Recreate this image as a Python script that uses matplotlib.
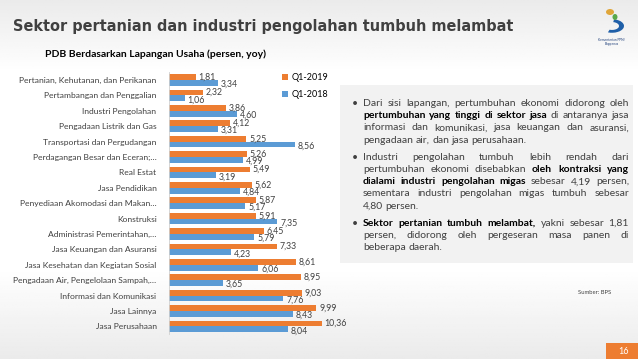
import matplotlib
matplotlib.use("Agg")
import matplotlib.pyplot as plt
import numpy as np
from matplotlib.patches import Rectangle, Wedge, Ellipse

# data
categories = ["Pertanian, Kehutanan, dan Perikanan", "Pertambangan dan Penggalian",
              "Industri Pengolahan", "Pengadaan Listrik dan Gas",
              "Transportasi dan Pergudangan", "Perdagangan Besar dan Eceran;…",
              "Real Estat", "Jasa Pendidikan", "Penyediaan Akomodasi dan Makan…",
              "Konstruksi", "Administrasi Pemerintahan,…", "Jasa Keuangan dan Asuransi",
              "Jasa Kesehatan dan Kegiatan Sosial", "Pengadaan Air, Pengelolaan Sampah,…",
              "Informasi dan Komunikasi", "Jasa Lainnya", "Jasa Perusahaan"]
q1_2019 = [1.81, 2.32, 3.86, 4.12, 5.25, 5.26, 5.49, 5.62, 5.87, 5.91, 6.45, 7.33, 8.61, 8.95, 9.03, 9.99, 10.36]
q1_2018 = [3.34, 1.06, 4.60, 3.31, 8.56, 4.99, 3.19, 4.84, 5.17, 7.35, 5.79, 4.23, 6.06, 3.65, 7.76, 8.43, 8.04]
series_names = ["Q1-2019", "Q1-2018"]

title = "Sektor pertanian dan industri pengolahan tumbuh melambat"
subtitle = "PDB Berdasarkan Lapangan Usaha (persen, yoy)"

# bullet paragraphs: lines of (text, bold) runs
bullets = [
    [[("Dari sisi lapangan, pertumbuhan ekonomi didorong oleh", False)],
     [("pertumbuhan yang tinggi di sektor jasa", True), ("di antaranya jasa", False)],
     [("informasi dan komunikasi, jasa keuangan dan asuransi,", False)],
     [("pengadaan air, dan jasa perusahaan.", False)]],
    [[("Industri pengolahan tumbuh lebih rendah dari", False)],
     [("pertumbuhan ekonomi disebabkan", False), ("oleh kontraksi yang", True)],
     [("dialami industri pengolahan migas", True), ("sebesar 4,19 persen,", False)],
     [("sementara industri pengolahan migas tumbuh sebesar", False)],
     [("4,80 persen.", False)]],
    [[("Sektor pertanian tumbuh melambat,", True), ("yakni sebesar 1,81", False)],
     [("persen, didorong oleh pergeseran masa panen di", False)],
     [("beberapa daerah.", False)]],
]

W, H = 638, 359
ORANGE = "#ED7D31"
BLUE = "#5B9BD5"
DARK = "#404040"
FONT = "Lato"

fig = plt.figure(figsize=(W / 100, H / 100), dpi=100)
renderer = fig.canvas.get_renderer()


def px(x, y):
    return x / W, 1 - y / H


def width_of(s, size, bold, family=FONT):
    t = fig.text(0, 0, s, fontsize=size, fontweight="bold" if bold else "normal", family=family)
    w = t.get_window_extent(renderer).width
    t.remove()
    return w


# slide background: light grey at top/bottom, white in the middle
bg = fig.add_axes([0, 0, 1, 1], zorder=-10)
yy = np.linspace(0, 1, 200)
shade = 0.92 + 0.08 * np.clip(np.minimum(yy / 0.2, (1 - yy) / 0.25), 0, 1)
bg.imshow(np.tile(shade[:, None], (1, 10)), cmap="gray", vmin=0, vmax=1,
          aspect="auto", extent=[0, 1, 1, 0])
bg.set_xlim(0, 1)
bg.set_ylim(1, 0)
bg.axis("off")

# title fitted to its width on the slide
tsize = 12.0 * (511 - 13) / width_of(title, 12.0, True, "DejaVu Sans")
fig.text(*px(13, 31), title, fontsize=tsize, fontweight="bold", color=DARK,
         family="DejaVu Sans", va="baseline", ha="left")
fig.text(*px(45, 54), subtitle, fontsize=7.5, fontweight="bold", color="black",
         family=FONT, va="center", ha="left")

# logo (simplified)
fig.patches.append(Wedge(px(612, 26), 12 / W, 250, 80, width=5 / W, transform=fig.transFigure,
                         facecolor="#1f5fa8", edgecolor="none"))
fig.patches.append(Ellipse(px(610, 12), 8 / W, 6 / H, transform=fig.transFigure,
                           facecolor="#e0a63a", edgecolor="none"))
fig.patches.append(Ellipse(px(615, 17), 5 / W, 6 / H, transform=fig.transFigure,
                           facecolor="#5aa84a", edgecolor="none"))
fig.text(*px(612, 42), "Kementerian PPN/\nBappenas", fontsize=2.3, color="#1f3f7a",
         family=FONT, ha="center", va="center", linespacing=1.0)

# bar chart
ax = fig.add_axes([169 / W, 1 - 334.1 / H, 169.6 / W, 261.8 / H])
ax.patch.set_alpha(0)
y = np.arange(len(categories))
h = 0.375
ax.barh(y - h / 2, q1_2019, height=h, color=ORANGE, label=series_names[0])
ax.barh(y + h / 2, q1_2018, height=h, color=BLUE, label=series_names[1])
for i in range(len(categories)):
    ax.annotate(f"{q1_2019[i]:.2f}".replace(".", ","), (q1_2019[i], i - h / 2),
                xytext=(2, 0), textcoords="offset points", va="center",
                fontsize=6.3, color=DARK, family=FONT)
    ax.annotate(f"{q1_2018[i]:.2f}".replace(".", ","), (q1_2018[i], i + h / 2 + 0.1),
                xytext=(2, 0), textcoords="offset points", va="center",
                fontsize=6.3, color=DARK, family=FONT)
ax.set_xlim(0, 11.5)
ax.set_ylim(len(categories) - 0.5, -0.5)
ax.set_yticks(y)
ax.set_yticklabels(categories, fontsize=6.1, color=DARK, family=FONT)
ax.tick_params(axis="y", length=0, pad=9)
ax.set_xticks([])
for s in ["top", "right", "bottom"]:
    ax.spines[s].set_visible(False)
ax.spines["left"].set_color("#d0d0d0")
ax.spines["left"].set_linewidth(0.6)
ax.legend(loc="upper left", bbox_to_anchor=px(274, 65),
          bbox_transform=fig.transFigure, frameon=False,
          handlelength=0.6, handleheight=0.6, handletextpad=0.4, labelspacing=0.9,
          prop={"family": FONT, "size": 6.5})

# text box with justified bullet text
fig.patches.append(Rectangle(px(340, 263), 293 / W, 178 / H, transform=fig.transFigure,
                             facecolor="#f2f2f2", edgecolor="none", zorder=1))

FS = 7.5
space_w = width_of("a a", FS, False) - width_of("aa", FS, False)
x0, x1 = 363, 629
line_h = 12.2
ypos = 103.5
for para in bullets:
    fig.text(*px(352, ypos), "•", fontsize=FS, color=DARK, family=FONT, va="center", zorder=3)
    for li, line in enumerate(para):
        words = [(w, bold) for text, bold in line for w in text.split(" ")]
        widths = [width_of(w, FS, b) for w, b in words]
        if li == len(para) - 1 or len(words) < 2:
            gap = space_w
        else:
            gap = (x1 - x0 - sum(widths)) / (len(words) - 1)
        xc = x0
        for (w, b), wd in zip(words, widths):
            fig.text(*px(xc, ypos), w, fontsize=FS, fontweight="bold" if b else "normal",
                     color="black" if b else DARK, family=FONT, va="center", zorder=3)
            xc += wd + gap
        ypos += line_h
    ypos += 5

fig.text(*px(578, 293), "Sumber: BPS", fontsize=4.2, color=DARK, family=FONT, va="center")
fig.patches.append(Rectangle(px(606, 359), 32 / W, 16 / H, transform=fig.transFigure,
                             facecolor=ORANGE, edgecolor="none", zorder=2))
fig.text(*px(624, 351), "16", fontsize=6.5, color="white", family=FONT,
         ha="center", va="center", zorder=3)

fig.savefig("out.png", dpi=100)
